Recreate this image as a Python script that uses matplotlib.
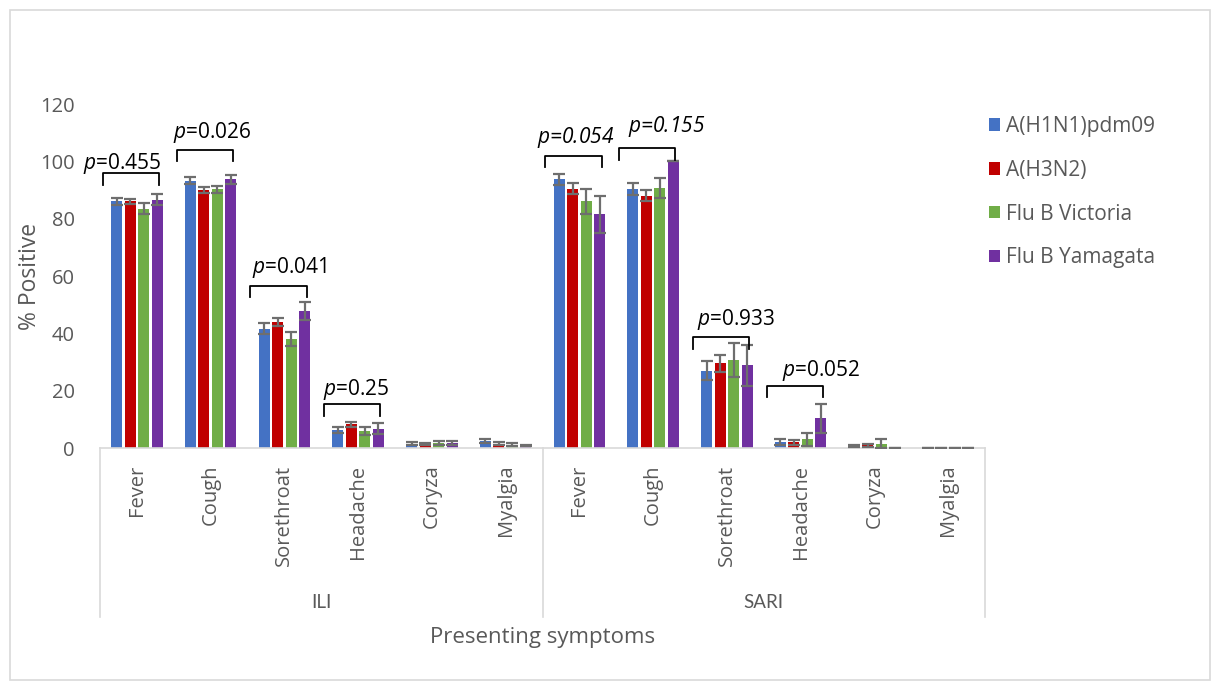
import numpy as np
import matplotlib
matplotlib.use('Agg')
import matplotlib.pyplot as plt
from matplotlib.lines import Line2D
from matplotlib.patches import Rectangle

plt.rcParams['font.family'] = ['Open Sans', 'DejaVu Sans']
plt.rcParams['mathtext.fontset'] = 'custom'
plt.rcParams['mathtext.it'] = 'Open Sans:italic'
plt.rcParams['mathtext.rm'] = 'Open Sans'

# data
series = ['A(H1N1)pdm09', 'A(H3N2)', 'Flu B Victoria', 'Flu B Yamagata']
symptoms = ['Fever', 'Cough', 'Sorethroat', 'Headache', 'Coryza', 'Myalgia']
groups = ['ILI', 'SARI']

h1n1 = [86.0, 93.3, 41.6, 6.3, 1.5, 2.4, 93.7, 90.3, 27.0, 2.2, 0.7, 0]
h3n2 = [86.0, 90.0, 44.0, 8.2, 1.5, 1.5, 90.5, 88.0, 29.5, 2.0, 1.0, 0]
vic = [83.5, 90.2, 38.1, 6.0, 1.6, 1.2, 86.0, 90.7, 30.7, 3.0, 1.5, 0]
yam = [86.6, 93.7, 47.8, 6.8, 1.7, 0.9, 81.5, 100.0, 28.8, 10.3, 0, 0]

h1n1_err = [1.3, 1.2, 2.0, 1.2, 0.5, 0.7, 2.0, 2.2, 3.4, 1.0, 0.3, 0]
h3n2_err = [1.0, 1.0, 1.5, 1.0, 0.4, 0.5, 2.0, 2.0, 2.9, 0.8, 0.5, 0]
vic_err = [1.8, 1.3, 2.5, 1.3, 0.7, 0.4, 4.5, 3.5, 5.8, 2.3, 1.5, 0]
yam_err = [2.0, 1.5, 3.0, 1.8, 0.8, 0.3, 6.4, 0, 7.3, 5.2, 0, 0]

p_cats = [0, 1, 2, 3, 6, 7, 8, 9]
p_values = ['0.455', '0.026', '0.041', '0.25', '0.054', '0.155', '0.933', '0.052']
p_all_italic = [False, False, False, False, True, True, False, False]

# bracket / text placement (data units)
bracket_top = [95.9, 104.0, 56.6, 15.3, 102.0, 104.5, 38.6, 21.7]
text_base = [97.4, 108.1, 60.9, 18.5, 106.3, 110.1, 42.9, 25.1]
text_dx = [-0.2, 0.02, 0.07, -0.03, -0.05, 0.19, 0.12, 0.28]

colors = ['#4472C4', '#C00000', '#70AD47', '#7030A0']
grey = '#595959'
line_grey = '#D9D9D9'

values = [h1n1, h3n2, vic, yam]
errors = [h1n1_err, h3n2_err, vic_err, yam_err]
labels = symptoms * len(groups)
x = np.arange(len(labels)) + 0.5

fig = plt.figure(figsize=(12.19, 6.89), dpi=100)
fig.patches.append(Rectangle((10 / 1219, 9 / 689), 1200 / 1219, 670 / 689,
                             transform=fig.transFigure, fill=False,
                             edgecolor=line_grey, lw=1.2))
ax = fig.add_axes([100 / 1219, 1 - 448 / 689, 885 / 1219, 344 / 689])

width = 0.15
step = 0.183
for i, (vals, errs) in enumerate(zip(values, errors)):
    pos = x + (i - 1.5) * step
    ax.bar(pos, vals, width, color=colors[i], label=series[i], zorder=2)
    ax.errorbar(pos, vals, yerr=errs, fmt='none', ecolor='#6E6E6E',
                elinewidth=1.6, capsize=4.3, capthick=1.6, zorder=3)

for k, c in enumerate(p_cats):
    xc = x[c]
    y0 = bracket_top[k]
    ax.plot([xc - 0.46, xc - 0.46, xc + 0.30, xc + 0.30],
            [y0 - 4.0, y0, y0, y0 - 4.0], color='black', lw=1.3, zorder=4)
    style = 'italic' if p_all_italic[k] else 'normal'
    ax.text(xc + text_dx[k], text_base[k], '$p$=' + p_values[k],
            ha='center', va='baseline', fontsize=15, color='black',
            style=style)

ax.set_xlim(0, len(labels))
ax.set_ylim(0, 120)
ax.set_yticks(np.arange(0, 121, 20))
ax.tick_params(axis='y', length=0, pad=18, labelsize=14.5, labelcolor=grey)
ax.set_xticks(x)
ax.set_xticklabels(labels, rotation=90, fontsize=14.5, color=grey)
ax.tick_params(axis='x', length=0, pad=12)
for s in ['left', 'right', 'top']:
    ax.spines[s].set_visible(False)
ax.spines['bottom'].set_color(line_grey)
ax.spines['bottom'].set_linewidth(1.2)

ax.set_ylabel('% Positive', fontsize=16.5, color=grey)
ax.yaxis.set_label_coords(-58 / 885, 0.5)

# multi-level category box
depth = -(617 - 448) / 344
for xf in [0, 0.5, 1]:
    ax.add_line(Line2D([xf, xf], [0, depth], transform=ax.transAxes,
                       color=line_grey, lw=1.2, clip_on=False))
for g, name in enumerate(groups):
    ax.text(0.25 + 0.5 * g, -(603 - 448) / 344, name, transform=ax.transAxes,
            ha='center', va='center', fontsize=13.5, color=grey,
            family=['Lato', 'DejaVu Sans'])
ax.text(0.5, -(637 - 448) / 344, 'Presenting symptoms', transform=ax.transAxes,
        ha='center', va='center', fontsize=16, color=grey)

leg = fig.legend(loc='upper left', bbox_to_anchor=(970 / 1219, 1 - 97 / 689),
                 frameon=False, fontsize=15, handlelength=0.55,
                 handleheight=0.55, handletextpad=0.3, labelspacing=1.1)
for t in leg.get_texts():
    t.set_color(grey)

fig.savefig('out.png', dpi=100)
